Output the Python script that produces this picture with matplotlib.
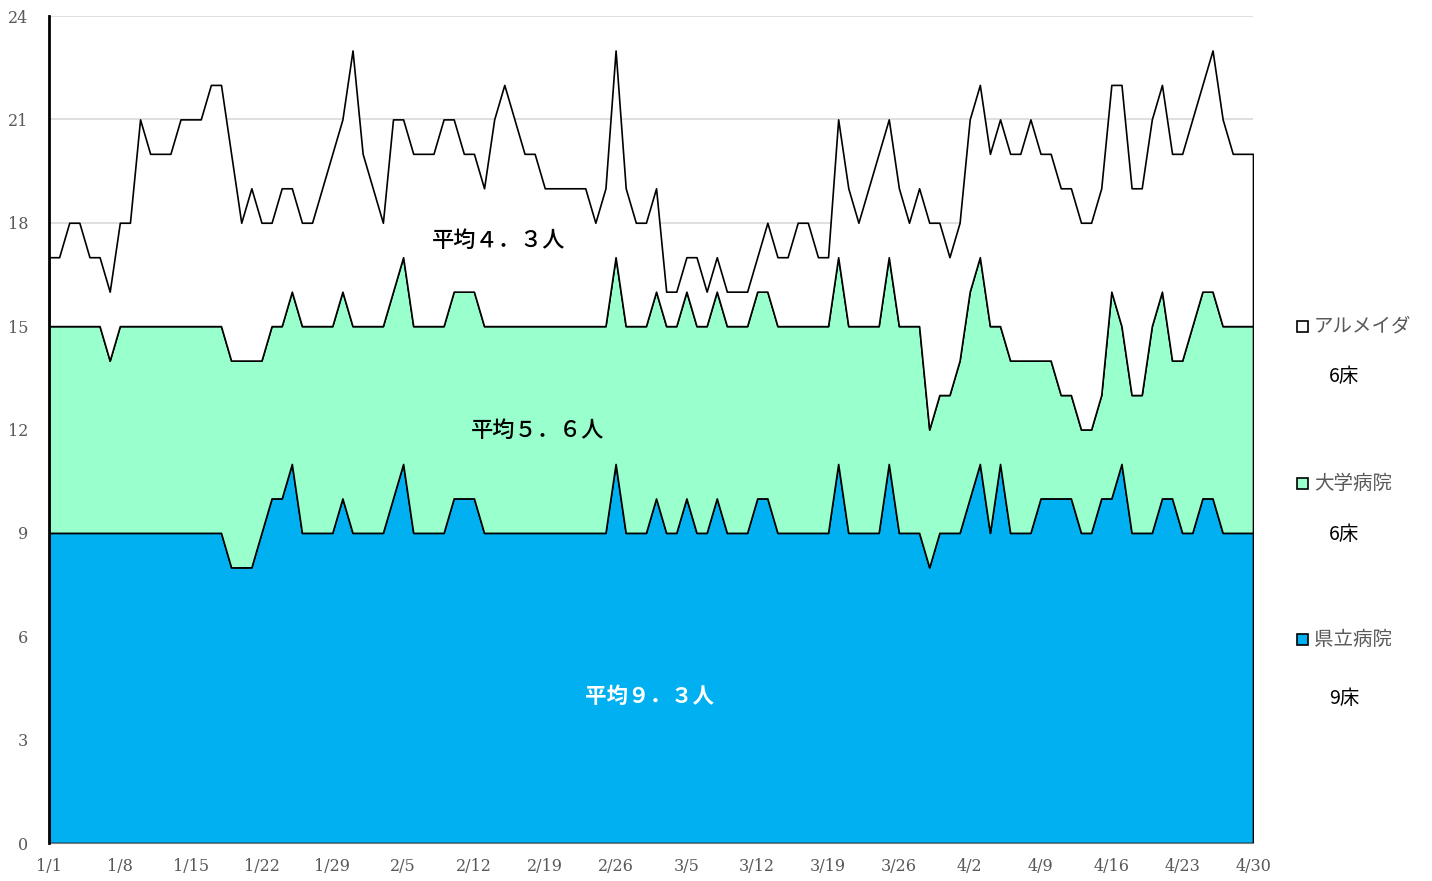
import matplotlib
matplotlib.use("Agg")
import matplotlib.pyplot as plt
from matplotlib.patches import Rectangle

# ---- data (daily occupied beds, 1/1 .. 4/30) ----
prefectural = [
    9, 9, 9, 9, 9, 9, 9, 9, 9, 9,
    9, 9, 9, 9, 9, 9, 9, 9, 8, 8,
    8, 9, 10, 10, 11, 9, 9, 9, 9, 10,
    9, 9, 9, 9, 10, 11, 9, 9, 9, 9,
    10, 10, 10, 9, 9, 9, 9, 9, 9, 9,
    9, 9, 9, 9, 9, 9, 11, 9, 9, 9,
    10, 9, 9, 10, 9, 9, 10, 9, 9, 9,
    10, 10, 9, 9, 9, 9, 9, 9, 11, 9,
    9, 9, 9, 11, 9, 9, 9, 8, 9, 9,
    9, 10, 11, 9, 11, 9, 9, 9, 10, 10,
    10, 10, 9, 9, 10, 10, 11, 9, 9, 9,
    10, 10, 9, 9, 10, 10, 9, 9, 9, 9,
]
university = [
    6, 6, 6, 6, 6, 6, 5, 6, 6, 6,
    6, 6, 6, 6, 6, 6, 6, 6, 6, 6,
    6, 5, 5, 5, 5, 6, 6, 6, 6, 6,
    6, 6, 6, 6, 6, 6, 6, 6, 6, 6,
    6, 6, 6, 6, 6, 6, 6, 6, 6, 6,
    6, 6, 6, 6, 6, 6, 6, 6, 6, 6,
    6, 6, 6, 6, 6, 6, 6, 6, 6, 6,
    6, 6, 6, 6, 6, 6, 6, 6, 6, 6,
    6, 6, 6, 6, 6, 6, 6, 4, 4, 4,
    5, 6, 6, 6, 4, 5, 5, 5, 4, 4,
    3, 3, 3, 3, 3, 6, 4, 4, 4, 6,
    6, 4, 5, 6, 6, 6, 6, 6, 6, 6,
]
almeida = [
    2, 2, 3, 3, 2, 2, 2, 3, 3, 6,
    5, 5, 5, 6, 6, 6, 7, 7, 6, 4,
    5, 4, 3, 4, 3, 3, 3, 4, 5, 5,
    8, 5, 4, 3, 5, 4, 5, 5, 5, 6,
    5, 4, 4, 4, 6, 7, 6, 5, 5, 4,
    4, 4, 4, 4, 3, 4, 6, 4, 3, 3,
    3, 1, 1, 1, 2, 1, 1, 1, 1, 1,
    1, 2, 2, 2, 3, 3, 2, 2, 4, 4,
    3, 4, 5, 4, 4, 3, 4, 6, 5, 4,
    4, 5, 5, 5, 6, 6, 6, 7, 6, 6,
    6, 6, 6, 6, 6, 6, 7, 6, 6, 6,
    6, 6, 6, 6, 6, 7, 6, 5, 5, 5,
]
series_names = ["県立病院", "大学病院", "アルメイダ"]
bed_labels = ["9床", "6床", "6床"]
avg_labels = ["平均９．３人", "平均５．６人", "平均４．３人"]
tick_pos = [0, 7, 14, 21, 28, 35, 42, 49, 56, 63, 70, 77, 84, 91, 98, 105, 112, 119]
tick_labels = ["1/1", "1/8", "1/15", "1/22", "1/29", "2/5", "2/12", "2/19", "2/26",
               "3/5", "3/12", "3/19", "3/26", "4/2", "4/9", "4/16", "4/23", "4/30"]
y_ticks = [0, 3, 6, 9, 12, 15, 18, 21, 24]

colors = ["#00B0F0", "#99FFCC", "#FFFFFF"]
cjk = ["Noto Sans CJK JP", "DejaVu Sans"]

W, H = 1432, 881
fig = plt.figure(figsize=(W / 100, H / 100), dpi=100)
ax = fig.add_axes([49 / W, 1 - 843 / H, (1253 - 49) / W, (843 - 16) / H])

x = list(range(len(prefectural)))
ax.stackplot(x, prefectural, university, almeida, colors=colors,
             edgecolor="black", linewidth=1.2, zorder=2)

ax.set_xlim(0, 119)
ax.set_ylim(0, 24)
ax.set_yticks(y_ticks)
ax.set_xticks(tick_pos)
ax.set_xticklabels(tick_labels)
ax.yaxis.grid(True, color="#D9D9D9", linewidth=1.2, zorder=0)
ax.set_axisbelow(True)
for lab in ax.get_xticklabels() + ax.get_yticklabels():
    lab.set_family("DejaVu Serif")
    lab.set_fontsize(11.5)
    lab.set_color("#595959")
ax.tick_params(axis="both", length=0)
ax.tick_params(axis="y", pad=15)
ax.tick_params(axis="x", pad=11)
for s in ["top", "right"]:
    ax.spines[s].set_visible(False)
ax.spines["left"].set_linewidth(2)
ax.spines["left"].set_color("black")
ax.spines["left"].set_zorder(5)
ax.spines["bottom"].set_color("#7F7F7F")

# average labels
ax.text(59.4, 4.24, avg_labels[0], ha="center", va="center", fontsize=15.5,
        family=cjk, fontweight="bold", color="white", zorder=6)
ax.text(48.3, 11.98, avg_labels[1], ha="center", va="center", fontsize=16,
        family=cjk, fontweight="medium", color="black", zorder=6)
ax.text(44.4, 17.5, avg_labels[2], ha="center", va="center", fontsize=16,
        family=cjk, fontweight="medium", color="black", zorder=6)

# legend (right side)
leg_y = [639, 483, 326]
bed_y = [698, 534, 376]
for i in range(3):
    y = leg_y[i]
    fig.patches.append(Rectangle(((1297) / W, 1 - (y + 6) / H), 11 / W, 11 / H,
                                 transform=fig.transFigure, facecolor=colors[i],
                                 edgecolor="black", linewidth=1.2))
    fig.text(1314 / W, 1 - y / H, series_names[i], ha="left", va="center",
             fontsize=14, family=cjk, color="#595959")
    fig.text(1344 / W, 1 - bed_y[i] / H, bed_labels[i], ha="center", va="center",
             fontsize=14, family=cjk, color="black")

fig.savefig("out.png", dpi=100)
